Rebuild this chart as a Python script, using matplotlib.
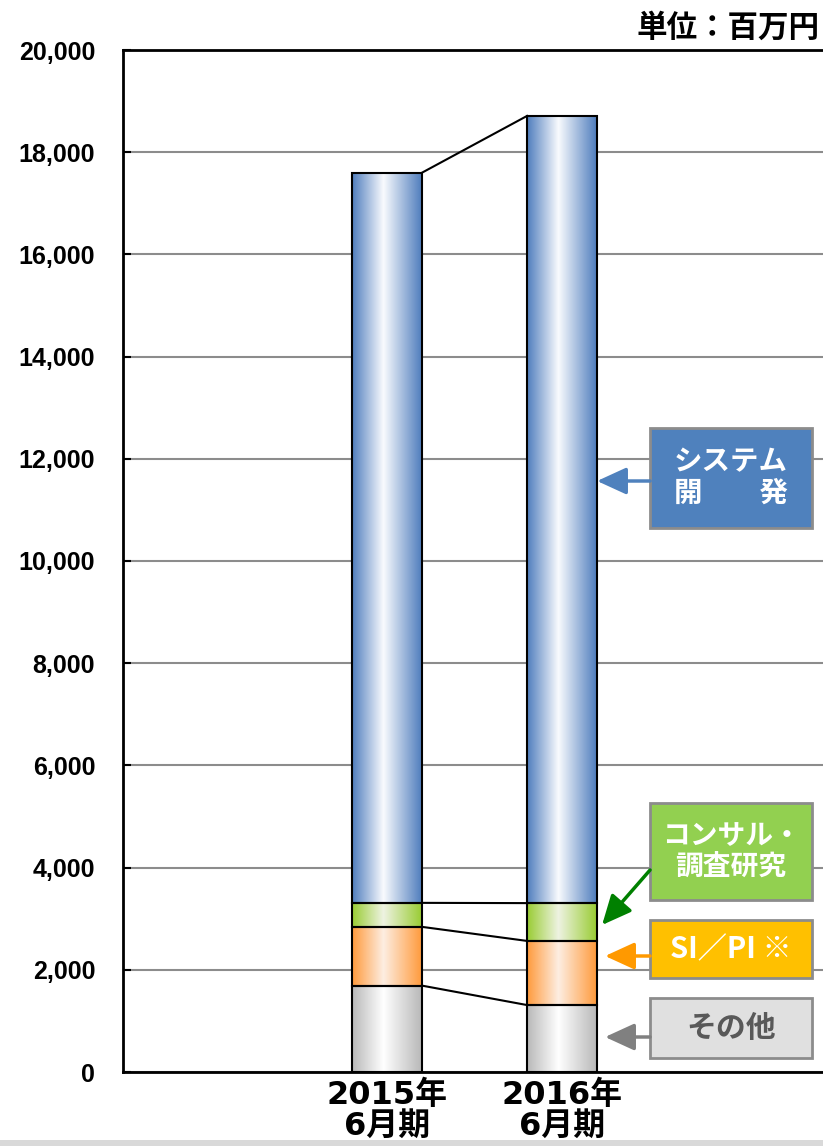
import numpy as np
import matplotlib
matplotlib.use('Agg')
import matplotlib.pyplot as plt
from matplotlib.colors import LinearSegmentedColormap
from matplotlib.patches import Rectangle

plt.rcParams['font.family'] = ['Noto Sans CJK JP', 'DejaVu Sans']

# ---- data ----
periods = ['2015年\n6月期', '2016年\n6月期']
segment_names = ['その他', 'SI／PI ※', 'コンサル・\n調査研究', 'システム\n開　　発']
other = [1690, 1310]
sipi = [1150, 1255]
consul = [470, 740]
system = [14290, 15405]
yticks = list(range(0, 20001, 2000))
unit_label = '単位：百万円'

series = [other, sipi, consul, system]
edge_cols = ['#b8b8b8', '#ff9a3c', '#99cc33', '#4f7dbd']
mid_cols = ['#ffffff', '#fdeee2', '#eef3e2', '#f9fbfe']
box_face = ['#e0e0e0', '#ffc000', '#92d050', '#4f81bd']
box_text = ['#595959', 'white', 'white', 'white']
arrow_cols = ['#808080', '#ff9900', '#008000', '#4f81bd']

W, H = 823, 1146
fig = plt.figure(figsize=(W / 100, H / 100), dpi=100)
ax = fig.add_axes([123 / W, 1 - 1072 / H, 700 / W, (1072 - 50) / H])

x = np.arange(len(periods))
bw = 0.4
bottoms = np.zeros(len(periods))
tops = []
grad = np.linspace(0, 1, 256).reshape(1, -1)
for vals, ec, mc in zip(series, edge_cols, mid_cols):
    cmap = LinearSegmentedColormap.from_list('g', [(0, ec), (0.45, mc), (1, ec)])
    bars = ax.bar(x, vals, bw, bottom=bottoms, facecolor='none', edgecolor='black',
                  linewidth=1.5, zorder=4)
    for p in bars:
        im = ax.imshow(grad, cmap=cmap, aspect='auto', zorder=3,
                       extent=[p.get_x(), p.get_x() + p.get_width(),
                               p.get_y(), p.get_y() + p.get_height()])
        im.set_clip_path(p)
    bottoms = bottoms + np.array(vals)
    tops.append(bottoms.copy())

# connector lines
for t in tops:
    ax.plot([x[0] + bw / 2, x[1] - bw / 2], [t[0], t[1]], color='black', lw=1.5, zorder=4)

ax.set_xlim(-1.509, 2.491)
ax.set_ylim(0, 20000)
ax.set_yticks(yticks)
ax.set_yticklabels([f'{v:,}' for v in yticks], family=['Liberation Sans', 'DejaVu Sans'],
                   fontweight='bold', fontsize=18)
ax.set_xticks(x)
ax.set_xticklabels(periods, fontsize=23, fontweight='bold', linespacing=1.0,
                   family=['DejaVu Sans', 'Noto Sans CJK JP'])
ax.tick_params(axis='y', direction='in', length=6, width=1.5, pad=20)
ax.tick_params(axis='x', length=0, pad=6)
ax.yaxis.grid(True, color='#8c8c8c', lw=1.5, zorder=1)
ax.set_axisbelow(True)
for s in ['left', 'bottom', 'top']:
    ax.spines[s].set_linewidth(2)
    ax.spines[s].set_color('black')
ax.spines['right'].set_visible(False)

# label boxes (pixel layout -> data)
def px2x(px):
    return (px - 387) / 175.0

def py2y(py):
    return (1072 - py) / 1022.0 * 20000

boxes = [  # (top_px, bottom_px, arrow_start_py, arrow_end_px, arrow_end_py)
    (998, 1058, 1037, 605, 1037),
    (920, 978, 956, 605, 956),
    (803, 900, 870, 602, 925),
    (428, 528, 481, 597, 481),
]
sizes = [21.5, 21, 20, 20.5]
for i, (t, b, ay, ex, ey) in enumerate(boxes):
    x0, x1 = px2x(650), px2x(812)
    y0, y1 = py2y(b), py2y(t)
    rect = Rectangle((x0, y0), x1 - x0, y1 - y0, facecolor=box_face[i],
                     edgecolor='#8c8c8c', lw=2, zorder=6, clip_on=False)
    ax.add_patch(rect)
    ax.text((x0 + x1) / 2, (y0 + y1) / 2, segment_names[i], ha='center', va='center',
            color=box_text[i], fontsize=sizes[i], fontweight='bold', zorder=7,
            linespacing=1.15, clip_on=False)
    ax.annotate('', xy=(px2x(ex), py2y(ey)), xytext=(x0, py2y(ay)),
                arrowprops=dict(arrowstyle='-|>,head_length=1.2,head_width=0.55',
                                color=arrow_cols[i], lw=2.5, mutation_scale=15,
                                shrinkA=0, shrinkB=0), zorder=6)

fig.text(820 / W, 1 - 28 / H, unit_label, ha='right', va='center', fontsize=22,
         fontweight='bold')
fig.patches.append(Rectangle((0, 0), 1, 6 / H, transform=fig.transFigure,
                             facecolor='#d9d9d9', edgecolor='none'))

fig.savefig('out.png', dpi=100)
